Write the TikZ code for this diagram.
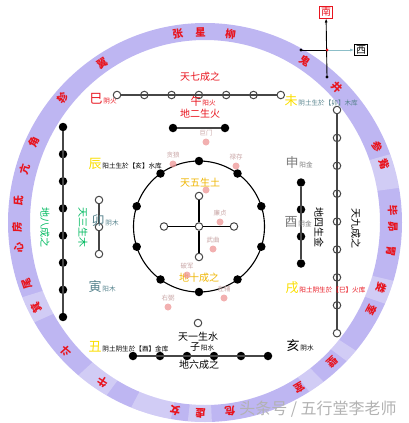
\documentclass[tikz,border=0pt]{standalone}
\usepackage{fontspec}
\setmainfont{Noto Sans CJK SC}
\usetikzlibrary{arrows.meta,positioning,calc}
\definecolor{ringc}{RGB}{190,182,242}
\definecolor{hred}{RGB}{232,20,30}
\definecolor{hyel}{RGB}{250,222,0}
\definecolor{hgold}{RGB}{238,180,0}
\definecolor{hgreen}{RGB}{0,185,95}
\definecolor{hteal}{RGB}{85,130,140}
\definecolor{hgray}{RGB}{125,125,125}
\definecolor{hline}{RGB}{70,70,70}
\definecolor{hcyan}{RGB}{140,190,200}
\definecolor{starc}{RGB}{200,165,165}
\definecolor{pinkc}{RGB}{238,150,150}
\newcommand\fs[1]{\fontsize{#1}{#1}\selectfont}

\begin{document}
\begin{tikzpicture}[x=1pt, y=-1pt,
tian/.style={circle, draw=hline, fill=white, line width=1pt, inner sep=0pt, minimum size=7.5pt},
di/.style={circle, fill=black, inner sep=0pt, minimum size=8.5pt},
link/.style={hline, line width=1.1pt},
zhi/.style={inner sep=0pt, font=\fs{13}},
shu/.style={inner sep=0pt, font=\fs{10}},
tiny/.style={inner sep=0pt, font=\fs{6.6}},
xiu/.style={inner sep=0pt, text=hred, font=\bfseries\fs{10.5}},
xing/.style={inner sep=0pt, text=starc, font=\fs{6.5}},
pink/.style={circle, fill=pinkc, opacity=.75, inner sep=0pt, minimum size=7pt}
]
\useasboundingbox (0,0) rectangle (408,423);

% ring of the 28 mansions
\begin{scope}[shift={(205,222.5)}, y=1pt]
\fill[ringc, even odd rule] (0,0) ellipse[x radius=197, y radius=199.5] (0,0) ellipse[x radius=175, y radius=182.5];
\foreach \a/\b in {10/20, -17/-24, -40/-44, -53/-58, -88/-95, -120/-130, -150/-158, -100/-112}
  \fill[white, opacity=.3] ({175*cos(\a)},{182.5*sin(\a)}) arc[start angle=\a, end angle=\b, x radius=175, y radius=182.5]
    -- ({197*cos(\b)},{199.5*sin(\b)}) arc[start angle=\b, end angle=\a, x radius=197, y radius=199.5] -- cycle;
\foreach \a/\s [count=\i] in {98.3/张, 91.4/星, 82.2/柳, 58/鬼, 45.3/井, 23.6/参, 17.7/觜,
  3.7/毕, -1.2/昴, -8.7/胃, -20.1/娄, -27.5/奎, -47.3/壁, -59.9/室, -82.4/危, -91.4/虚,
  -99.2/女, -123/牛, -137.6/斗, -153.4/箕, -161.2/尾, -172.4/心, -178.5/房, 173.5/氐,
  163.7/亢, 155.1/角, 139.1/轸, 123.2/翼}
  \node (x\i) [xiu, rotate=\a-90] at ({188*cos(\a)},{190.5*sin(\a)}) {\s};
\end{scope}

% compass
\node (nan) [draw=hred, line width=.8pt, text=hred, inner sep=1.5pt, font=\fs{10}] at (326,12) {南};
\node (xi) [draw=black, line width=.8pt, inner sep=1.5pt, font=\fs{10}] at (361,50) {西};
\coordinate (o) at (327,50);
\coordinate (s1) at (327,77);
\coordinate (w1) at (301,50);
\draw[line width=.9pt, -{Latex[length=4pt,width=3pt]}] (s1) -- (nan);
\draw[line width=.9pt] (w1) -- (o);
\draw[line width=.9pt, hcyan, -{Latex[length=4pt,width=3pt]}] (o) -- (xi);
\fill (s1) circle (1.6) (w1) circle (1.6);
\fill[hred] (o) circle (1.5);

% fire: 2 and 7
\foreach \i in {1,...,7} \node (q\i) [tian] at ({117+27.3*(\i-1)},95) {};
\draw[link] (q1) \foreach \i in {2,...,7} { -- (q\i) };
\node (d1) [di] at (173,128) {};
\node (d2) [di] at (225,128) {};
\draw[link] (d1) -- (d2);
\node (t7) [shu, text=hred] at (200,77) {天七成之};
\node (d2t) [shu, text=hred] at (200,114) {地二生火};
\node (wu) [zhi, text=hred, font=\fs{11}] at (196,101) {午};
\node (wut) [tiny, text=hred, base right=.5pt of wu] {阳火};
\node (si) [zhi, text=hred] at (96,99) {巳};
\node (sit) [tiny, text=hred, base right=.5pt of si] {阴火};
\node (wei) [zhi, text=hyel] at (291,101) {未};
\node (weit) [tiny, text=hteal, base right=.5pt of wei] {阴土生於【卯】木库};

% wood: 3 and 8
\foreach \i in {1,...,8} \node (e\i) [di] at (63,{127+27.14*(\i-1)}) {};
\draw[link] (e1) \foreach \i in {2,...,8} { -- (e\i) };
\foreach \i in {1,2,3} \node (m\i) [tian] at (99,{200+27*(\i-1)}) {};
\draw[link] (m1) -- (m2) -- (m3);
\node (e8t) [shu, text=hgreen, rotate=-90] at (45,227) {地八成之};
\node (m3t) [shu, text=hgreen, rotate=-90] at (83,227) {天三生木};
\node (mao) [zhi, text=hteal] at (98,221) {卯};
\node (maot) [tiny, text=hteal, base right=.5pt of mao] {阴木};
\node (yin) [zhi, text=hteal] at (95,287) {寅};
\node (yint) [tiny, text=hteal, base right=.5pt of yin] {阳木};
\node (chen) [zhi, text=hyel] at (95,164) {辰};
\node (chent) [tiny, base right=.5pt of chen] {阳土生於【亥】水库};

% metal: 4 and 9
\foreach \i in {1,...,4} \node (j\i) [di] at (301,{182.5+27*(\i-1)}) {};
\draw[link] (j1) \foreach \i in {2,...,4} { -- (j\i) };
\foreach \i in {1,...,9} \node (k\i) [tian] at (337,{110+27.9*(\i-1)}) {};
\draw[link] (k1) \foreach \i in {2,...,9} { -- (k\i) };
\node (j4t) [shu, rotate=-90] at (319,227) {地四生金};
\node (k9t) [shu, rotate=-90] at (356,228) {天九成之};
\node (shen) [zhi, text=hgray] at (292,163) {申};
\node (shent) [tiny, text=hgray, base right=.5pt of shen] {阳金};
\node (you) [zhi, text=hgray] at (291,222) {酉};
\node (yout) [tiny, text=hgray, base right=.5pt of you] {阴金};
\node (xu) [zhi, text=hyel] at (292,288) {戌};
\node (xut) [tiny, text=hred, base right=.5pt of xu] {阳土阴生於【巳】火库};

% water: 1 and 6
\node (w0) [tian] at (198,323) {};
\foreach \i in {1,...,6} \node (w\i) [di] at ({133+27*(\i-1)},356) {};
\draw[link] (w1) \foreach \i in {2,...,6} { -- (w\i) };
\node (w0t) [shu] at (198,337) {天一生水};
\node (zi) [shu] at (195,347) {子};
\node (zit) [tiny, base right=.5pt of zi] {阳水};
\node (w6t) [shu] at (199,365) {地六成之};
\node (chou) [zhi, text=hyel] at (95,347) {丑};
\node (chout) [tiny, base right=.5pt of chou] {阴土阴生於【酉】金库};
\node (hai) [zhi] at (293,346) {亥};
\node (hait) [tiny, base right=.5pt of hai] {阴水};

% earth: 5 and 10
\coordinate (cc) at (199,226.5);
\draw[line width=1.1pt] (cc) circle (65.5);
\foreach \i in {0,...,9} \node (r\i) [di] at ($(cc)+({65.5*cos(90+36*\i)},{-65.5*sin(90+36*\i)})$) {};
\node (c0) [tian] at (199,226.5) {};
\node (c1) [tian] at (199,196) {};
\node (c2) [tian] at (234,226.5) {};
\node (c3) [tian] at (199,257) {};
\node (c4) [tian] at (164,226.5) {};
\foreach \i in {1,...,4} \draw[line width=1.1pt] (c0) -- (c\i);
\node (c5t) [shu, text=hgold] at (200,183) {天五生土};
\node (r0t) [shu, text=hgold] at (199,278) {地十成之};

% the nine stars
\foreach \x/\y/\s [count=\i] in {206/133/巨门, 173/155/贪狼, 236/157/禄存, 220/213/廉贞,
  213/240/武曲, 187/266/破军, 168/298/右弼, 224/289/左辅}
{
  \node (p\i) [pink] at (\x,\y+9) {};
  \node (g\i) [xing] at (\x,\y) {\s};
}
\node (p9) [pink] at (206,190) {};

\node (mark) [text=black!30, font=\fs{16}] at (318,409) {头条号 / 五行堂李老师};
\end{tikzpicture}
\end{document}
